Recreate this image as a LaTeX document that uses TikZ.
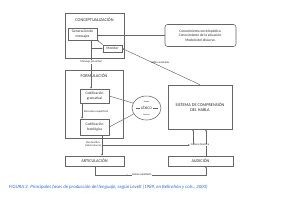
\documentclass[tikz,border=0pt]{standalone}
\usepackage{fontspec}
\setmainfont{Carlito}
\usetikzlibrary{arrows.meta,shapes.geometric,decorations.markings,calc}
\definecolor{ln}{HTML}{666666}
\definecolor{tx}{HTML}{2B2B2B}
\definecolor{capc}{HTML}{2A6BD0}
\begin{document}
\begin{tikzpicture}[x=1pt,y=-1pt,
 box/.style={draw=ln,line width=0.55pt,inner sep=0pt,text=tx},
 ttl/.style={font=\fontsize{4.3}{5.1}\selectfont,text=tx,inner sep=0pt,align=center},
 inn/.style={font=\fontsize{3.6}{4.4}\selectfont,text=tx,align=center,inner sep=0pt},
 lab/.style={font=\fontsize{2.8}{3.3}\selectfont,text=tx,align=center,inner sep=0.3pt},
 tiny/.style={font=\fontsize{2.2}{2.6}\selectfont,text=tx,inner sep=0pt},
 arr/.style={draw=ln,line width=0.45pt,-{Stealth[length=2pt,width=1.7pt]}},
 con/.style={draw=ln,line width=0.45pt}]
\useasboundingbox[fill=white] (0,0) rectangle (300,202);

% Conceptualizacion
\node[box,minimum width=59pt,minimum height=45pt] (conc) at (94.5,35.5) {};
\node[ttl] (conct) at (94.5,20) {CONCEPTUALIZACIÓN};
\node[box,inn,minimum width=29pt,minimum height=12pt] (gen) at (82.5,34) {Generación de\\mensajes};
\node[box,inn,minimum width=19pt,minimum height=7pt] (mon) at (112.5,48.5) {Monitor};
\node[box,inn,rounded corners=2.5pt,minimum width=71pt,minimum height=22pt] (know) at (200.5,35.5) {Conocimiento enciclopédico.\\Conocimiento de la situación.\\Modelo del discurso.};

% Formulacion
\node[box,minimum width=58pt,minimum height=68pt] (form) at (94,104) {};
\node[ttl] (formt) at (94,76) {FORMULACIÓN};
\node[box,inn,minimum width=29pt,minimum height=14pt] (codg) at (94.5,96) {Codificación\\gramatical};
\node[box,inn,minimum width=29pt,minimum height=16pt] (codf) at (94.5,127) {Codificación\\fonológica};

% Lexico
\node[draw=ln,line width=0.55pt,ellipse,minimum width=29pt,minimum height=24pt,inner sep=0pt] (lex) at (146.5,108) {};
\draw[con] ([xshift=-11pt]lex.center) -- ([xshift=11pt]lex.center);
\node[ttl,fill=white,inner sep=0.6pt,font=\fontsize{3.8}{4.5}\selectfont] (lext) at (lex.center) {LÉXICO};
\node[tiny] (lem) at (146.5,101.5) {lemas};
\node[tiny] (frm) at (146.5,115) {formas};

% Sistema, articulacion, audicion
\node[box,ttl,minimum width=64pt,minimum height=44pt] (sis) at (200,107) {SISTEMA DE COMPRENSIÓN\\DEL HABLA};
\node[box,ttl,minimum width=59pt,minimum height=10pt] (art) at (94.5,161) {ARTICULACIÓN};
\node[box,ttl,minimum width=65pt,minimum height=10pt] (aud) at (200.5,161) {AUDICIÓN};

% connectors
\draw[arr] (know.west) -- (gen.east |- know.west);
\draw[arr] (mon.north west) -- (gen.south east);
\draw[arr] ([xshift=8.5pt]gen.south) -- ([xshift=-3.5pt]codg.north);
\draw[arr] ([xshift=8.5pt]gen.south |- mon.west) -- (mon.west);
\node[lab,fill=white] (mp) at (91,62) {Mensaje preverbal};
\draw[arr] (sis.north) -- (mon.east);
\node[lab] (ha) at (160,62.5) {Habla analizada};
\draw[con] (codg.east) -- (lex.160);
\draw[con] (codf.east) -- (lex.205);
\draw[arr] ([xshift=-12.5pt]codg.south) -- ([xshift=-12.5pt]codf.north);
\node[lab] (es) at (96,112) {Estructura superficial};
\draw[arr] ([xshift=7.5pt]codf.south) -- ([xshift=7.5pt]art.north);
\node[lab,font=\fontsize{2.6}{3}\selectfont] (pf) at (93,144.5) {Plan fonético\\(Habla interna)};
\coordinate (cf0) at (102,145);
\draw[arr] ([xshift=5.5pt]aud.north) -- ([xshift=5.5pt]aud.north |- sis.south);
\node[lab,fill=white] (cad) at (200,145) {Cadena fonética};
\draw[arr] (cf0) -- ([xshift=-0.5pt]cad.west);
\draw[arr] ([xshift=-7pt]cad.north) -- ([xshift=-7pt]cad.north |- sis.south);
\draw[arr,postaction={decorate},decoration={markings,mark=at position 0.33 with {\arrow{Stealth[length=2pt,width=1.7pt]}}}]
  ([xshift=0.5pt]art.south) -- ++(0,9) -| ([xshift=5.5pt]aud.south);
\node[lab,fill=white] (hm) at (142,175) {Habla manifiesta};

% caption
\node[anchor=west,font=\fontsize{4.8}{5.2}\selectfont\itshape,text=capc,inner sep=0pt] (capt) at (9,187) {FIGURA 3. Principales fases de producción del lenguaje, según Levelt (1989, en Belinchón y cols., 2000)};
\end{tikzpicture}
\end{document}
